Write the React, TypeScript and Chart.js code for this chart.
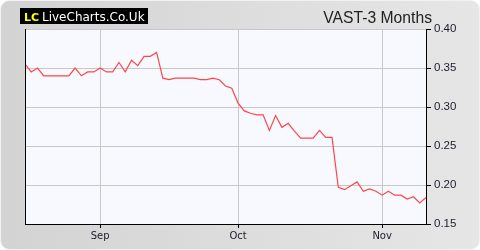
import React, { useEffect, useRef } from "react";
import { Chart, registerables } from "chart.js";

Chart.register(...registerables);

// Daily closing prices (trading days)
const prices: number[] = [
  0.355, 0.345, 0.35, 0.34, 0.34, 0.34, 0.34, 0.34, 0.35, 0.34,
  0.345, 0.345, 0.35, 0.345, 0.345, 0.357, 0.345, 0.36, 0.353, 0.365,
  0.365, 0.37, 0.337, 0.335, 0.337, 0.337, 0.337, 0.337, 0.335, 0.335,
  0.337, 0.335, 0.327, 0.324, 0.305, 0.295, 0.292, 0.29, 0.29, 0.27,
  0.289, 0.274, 0.279, 0.269, 0.26, 0.26, 0.26, 0.27, 0.261, 0.261,
  0.197, 0.194, 0.199, 0.204, 0.192, 0.195, 0.192, 0.187, 0.192, 0.187,
  0.187, 0.182, 0.185, 0.177, 0.184,
];

// Month tick positions (index of first trading day) and labels
const monthTickIndex: number[] = [12, 34, 57];
const monthTickLabels: string[] = ["Sep", "Oct", "Nov"];

const yTicks: number[] = [0.15, 0.2, 0.25, 0.3, 0.35, 0.4];

const titleText = "VAST-3 Months";
const logoMark = "LC";
const logoText = "LiveCharts.Co.Uk";

const W = 480;
const H = 250;

const decorPlugin = {
  id: "decor",
  beforeDraw(chart: any) {
    const ctx = chart.ctx as CanvasRenderingContext2D;
    const ca = chart.chartArea;
    ctx.save();
    ctx.fillStyle = "#ffffff";
    ctx.fillRect(0, 0, W, H);
    // rounded panel
    const g = ctx.createLinearGradient(0, 0, W, 0);
    g.addColorStop(0, "#d3d3d3");
    g.addColorStop(1, "#e6e6e6");
    ctx.fillStyle = g;
    ctx.beginPath();
    (ctx as any).roundRect(0.5, 0.5, W - 1, H - 1, 9);
    ctx.fill();
    ctx.strokeStyle = "#f2f2f2";
    ctx.lineWidth = 1;
    ctx.stroke();
    // plot background
    ctx.fillStyle = "#f7f9ff";
    ctx.fillRect(ca.left, ca.top, ca.right - ca.left, ca.bottom - ca.top);
    // logo
    ctx.fillStyle = "#000000";
    ctx.fillRect(20, 8, 128, 16);
    ctx.font = 'bold 11px "DejaVu Sans"';
    ctx.textBaseline = "alphabetic";
    ctx.textAlign = "left";
    ctx.fillStyle = "#ffff00";
    ctx.fillText(logoMark, 24, 21);
    ctx.fillStyle = "#ffffff";
    ctx.font = '12px "DejaVu Sans"';
    ctx.fillText(logoText, 42, 21);
    // title
    ctx.fillStyle = "#222222";
    ctx.font = '15.7px "Liberation Sans"';
    ctx.textAlign = "right";
    ctx.fillText(titleText, 432, 22.5);
    ctx.restore();
  },
  afterDraw(chart: any) {
    const ctx = chart.ctx as CanvasRenderingContext2D;
    const ca = chart.chartArea;
    ctx.save();
    ctx.strokeStyle = "#000000";
    ctx.lineWidth = 1;
    ctx.beginPath();
    const x = Math.round(ca.left) + 0.5;
    ctx.moveTo(x, ca.top);
    ctx.lineTo(x, ca.bottom + 0.5);
    ctx.stroke();
    ctx.restore();
  },
};

export default function App() {
  const ref = useRef<HTMLCanvasElement | null>(null);

  useEffect(() => {
    document.body.style.margin = "0";
    const canvas = ref.current;
    if (!canvas) return;
    const chart = new Chart(canvas, {
      type: "line",
      data: {
        datasets: [
          {
            data: prices.map((p, i) => ({ x: i, y: p })),
            borderColor: "#ff4646",
            borderWidth: 1.2,
            pointRadius: 0,
            tension: 0,
            fill: false,
          },
        ],
      },
      options: {
        animation: false,
        responsive: false,
        devicePixelRatio: 1,
        layout: { padding: { left: 25, top: 29, right: 0, bottom: 0 } },
        plugins: {
          legend: { display: false },
          tooltip: { enabled: false },
          title: { display: false },
        },
        scales: {
          x: {
            type: "linear",
            min: 0,
            max: prices.length - 1,
            afterBuildTicks: (scale: any) => {
              scale.ticks = monthTickIndex.map((v) => ({ value: v }));
            },
            afterFit: (scale: any) => {
              scale.height = 26;
            },
            grid: {
              color: "#c8c8c8",
              tickColor: "#000000",
              tickLength: 4,
              lineWidth: 1,
            },
            border: { color: "#000000", width: 1 },
            ticks: {
              autoSkip: false,
              maxRotation: 0,
              padding: 2,
              color: "#1c1c2c",
              font: { family: '"DejaVu Sans"', size: 10 },
              callback: (v: any) => {
                const k = monthTickIndex.indexOf(Number(v));
                return k >= 0 ? monthTickLabels[k] : "";
              },
            },
          },
          y: {
            type: "linear",
            position: "right",
            min: 0.15,
            max: 0.4,
            afterBuildTicks: (scale: any) => {
              scale.ticks = yTicks.map((v) => ({ value: v }));
            },
            afterFit: (scale: any) => {
              scale.width = 54;
            },
            grid: {
              color: "#c8c8c8",
              tickColor: "#000000",
              tickLength: 5,
              lineWidth: 1,
            },
            border: { color: "#000000", width: 1 },
            ticks: {
              padding: 3,
              color: "#1c1c2c",
              font: { family: '"Liberation Sans"', size: 11.5 },
              callback: (v: any) => Number(v).toFixed(2),
            },
          },
        },
      },
      plugins: [decorPlugin],
    });
    return () => chart.destroy();
  }, []);

  return (
    <div style={{ width: W, height: H }}>
      <canvas ref={ref} width={W} height={H} style={{ display: "block" }} />
    </div>
  );
}
